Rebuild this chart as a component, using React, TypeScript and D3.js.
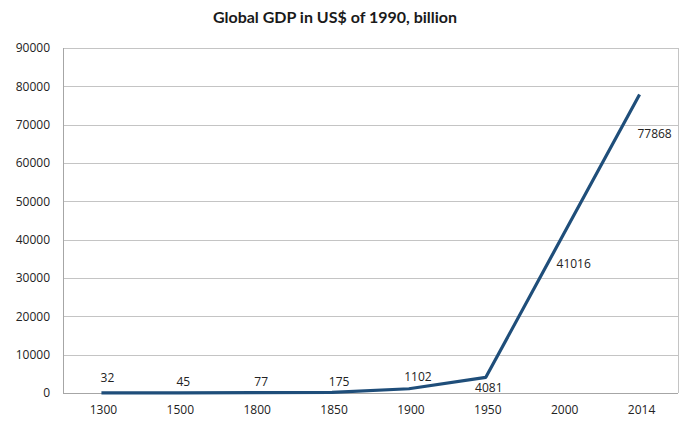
import React, { useEffect, useRef } from 'react';
import * as d3 from 'd3';

const years = ['1300', '1500', '1800', '1850', '1900', '1950', '2000', '2014'];
const gdp = [32, 45, 77, 175, 1102, 4081, 41016, 77868];
// where Excel put each data label, relative to its point
const labelOffsets: [number, number][] = [
  [6, -15], [5, -11], [6, -11], [7, -11], [9, -12], [3, 10], [11, 28], [15, 39],
];
const yTicks = [0, 10000, 20000, 30000, 40000, 50000, 60000, 70000, 80000, 90000];

const W = 681;
const H = 424;

const App: React.FC = () => {
  const svgRef = useRef<SVGSVGElement>(null);

  useEffect(() => {
    if (!svgRef.current) return;
    const svg = d3.select(svgRef.current);
    svg.selectAll('*').remove();

    const left = 63, right = 678, top = 48, bottom = 393;
    const font = "'Open Sans', 'DejaVu Sans', sans-serif";

    const x = d3.scaleBand().domain(years).range([left, right]);
    const y = d3.scaleLinear().domain([0, 90000]).range([bottom, top]);

    svg.append('rect').attr('width', W).attr('height', H).attr('fill', '#ffffff');

    // title
    svg.append('text')
      .attr('x', 335).attr('y', 23)
      .attr('text-anchor', 'middle')
      .attr('font-family', "Lato, 'Open Sans', sans-serif")
      .attr('font-weight', 'bold')
      .attr('font-size', 16)
      .attr('fill', '#1a1a1a')
      .text('Global GDP in US$ of 1990, billion');

    // gridlines
    svg.append('g').selectAll('line')
      .data(yTicks.filter(t => t > 0))
      .enter().append('line')
      .attr('x1', left).attr('x2', right)
      .attr('y1', d => Math.round(y(d)) + 0.5).attr('y2', d => Math.round(y(d)) + 0.5)
      .attr('stroke', '#c4c4c4').attr('stroke-width', 1);

    // right border of plot area
    svg.append('line')
      .attr('x1', right + 0.5).attr('x2', right + 0.5)
      .attr('y1', top).attr('y2', bottom)
      .attr('stroke', '#c4c4c4');

    // axes lines
    svg.append('line')
      .attr('x1', left + 0.5).attr('x2', left + 0.5)
      .attr('y1', top).attr('y2', bottom)
      .attr('stroke', '#a6a6a6');
    svg.append('line')
      .attr('x1', left).attr('x2', right)
      .attr('y1', bottom + 0.5).attr('y2', bottom + 0.5)
      .attr('stroke', '#a6a6a6');

    // y tick labels
    svg.append('g').selectAll('text')
      .data(yTicks)
      .enter().append('text')
      .attr('x', 50)
      .attr('y', d => y(d))
      .attr('dy', '0.35em')
      .attr('text-anchor', 'end')
      .attr('font-family', font)
      .attr('font-size', 12)
      .attr('fill', '#222')
      .text(d => String(d));

    // x tick labels
    svg.append('g').selectAll('text')
      .data(years)
      .enter().append('text')
      .attr('x', d => (x(d) || 0) + x.bandwidth() / 2 + 2)
      .attr('y', 414)
      .attr('text-anchor', 'middle')
      .attr('font-family', font)
      .attr('font-size', 12)
      .attr('fill', '#222')
      .text(d => d);

    const pts = years.map((yr, i) => ({ yr, v: gdp[i] }));
    const line = d3.line<{ yr: string; v: number }>()
      .x(d => (x(d.yr) || 0) + x.bandwidth() / 2)
      .y(d => y(d.v));

    svg.append('path')
      .datum(pts)
      .attr('fill', 'none')
      .attr('stroke', '#1f4e7a')
      .attr('stroke-width', 3.2)
      .attr('stroke-linejoin', 'round')
      .attr('d', line);

    // data labels
    svg.append('g').selectAll('text')
      .data(pts)
      .enter().append('text')
      .attr('x', (d, i) => (x(d.yr) || 0) + x.bandwidth() / 2 + labelOffsets[i][0])
      .attr('y', (d, i) => y(d.v) + labelOffsets[i][1])
      .attr('dy', '0.35em')
      .attr('text-anchor', 'middle')
      .attr('font-family', font)
      .attr('font-size', 12)
      .attr('fill', '#222')
      .text(d => String(d.v));
  }, []);

  return (
    <svg
      ref={svgRef}
      width={W}
      height={H}
      style={{ position: 'absolute', left: 0, top: 0, display: 'block' }}
    />
  );
};

export default App;
